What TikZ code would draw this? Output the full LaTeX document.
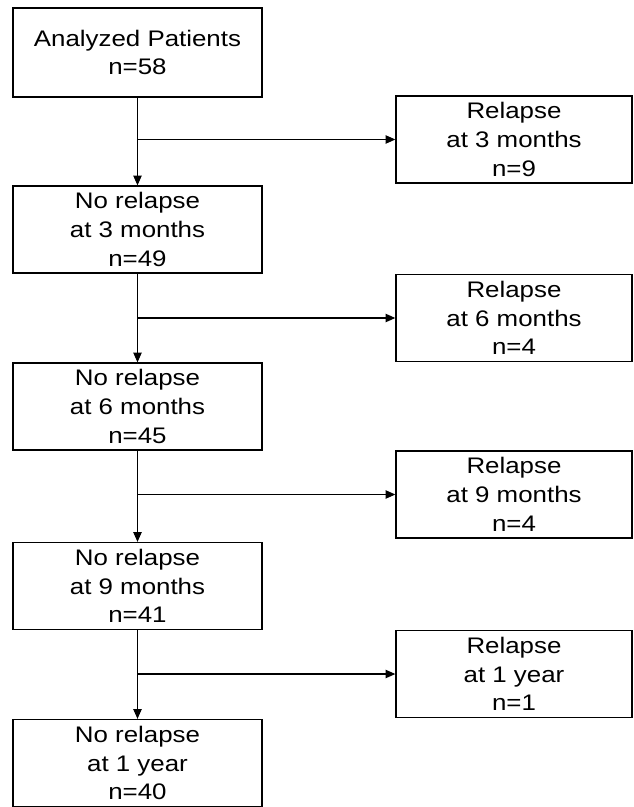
\documentclass[tikz,border=0pt]{standalone}
\usepackage{fontspec}
\setmainfont{Liberation Sans}[FakeStretch=1.15]
\usetikzlibrary{arrows.meta}

\begin{document}
\begin{tikzpicture}[x=0.025cm,y=-0.025cm,
  stage/.style={draw,line width=0.9pt,minimum width=6.225cm,minimum height=2.175cm,
    inner sep=0pt,align=center,font=\fontsize{16}{20.4}\selectfont},
  relapse/.style={stage,minimum width=5.9cm},
  flow/.style={line width=0.8pt,-{Triangle[length=7pt,width=6pt]}}]
\useasboundingbox (0,0) rectangle (633,807);
% left column: patients still in remission
\node[stage,minimum height=2.225cm] (p0) at (137.5,52.5) {Analyzed Patients\\n=58};
\node[stage] (p1) at (137.5,229.5) {No relapse\\at 3 months\\n=49};
\node[stage] (p2) at (137.5,406.5) {No relapse\\at 6 months\\n=45};
\node[stage] (p3) at (137.5,586) {No relapse\\at 9 months\\n=41};
\node[stage] (p4) at (137.5,763) {No relapse\\at 1 year\\n=40};
% right column: relapses
\node[relapse] (r1) at (514,139.5) {Relapse\\at 3 months\\n=9};
\node[relapse] (r2) at (514,318) {Relapse\\at 6 months\\n=4};
\node[relapse] (r3) at (514,494.5) {Relapse\\at 9 months\\n=4};
\node[relapse] (r4) at (514,674) {Relapse\\at 1 year\\n=1};
\draw[flow] (p0) -- (p1);
\draw[flow] (p1) -- (p2);
\draw[flow] (p2) -- (p3);
\draw[flow] (p3) -- (p4);
\coordinate (b1) at (p0.south |- r1);
\coordinate (b2) at (p1.south |- r2);
\coordinate (b3) at (p2.south |- r3);
\coordinate (b4) at (p3.south |- r4);
\draw[flow] (b1) -- (r1);
\draw[flow] (b2) -- (r2);
\draw[flow] (b3) -- (r3);
\draw[flow] (b4) -- (r4);
\end{tikzpicture}
\end{document}
